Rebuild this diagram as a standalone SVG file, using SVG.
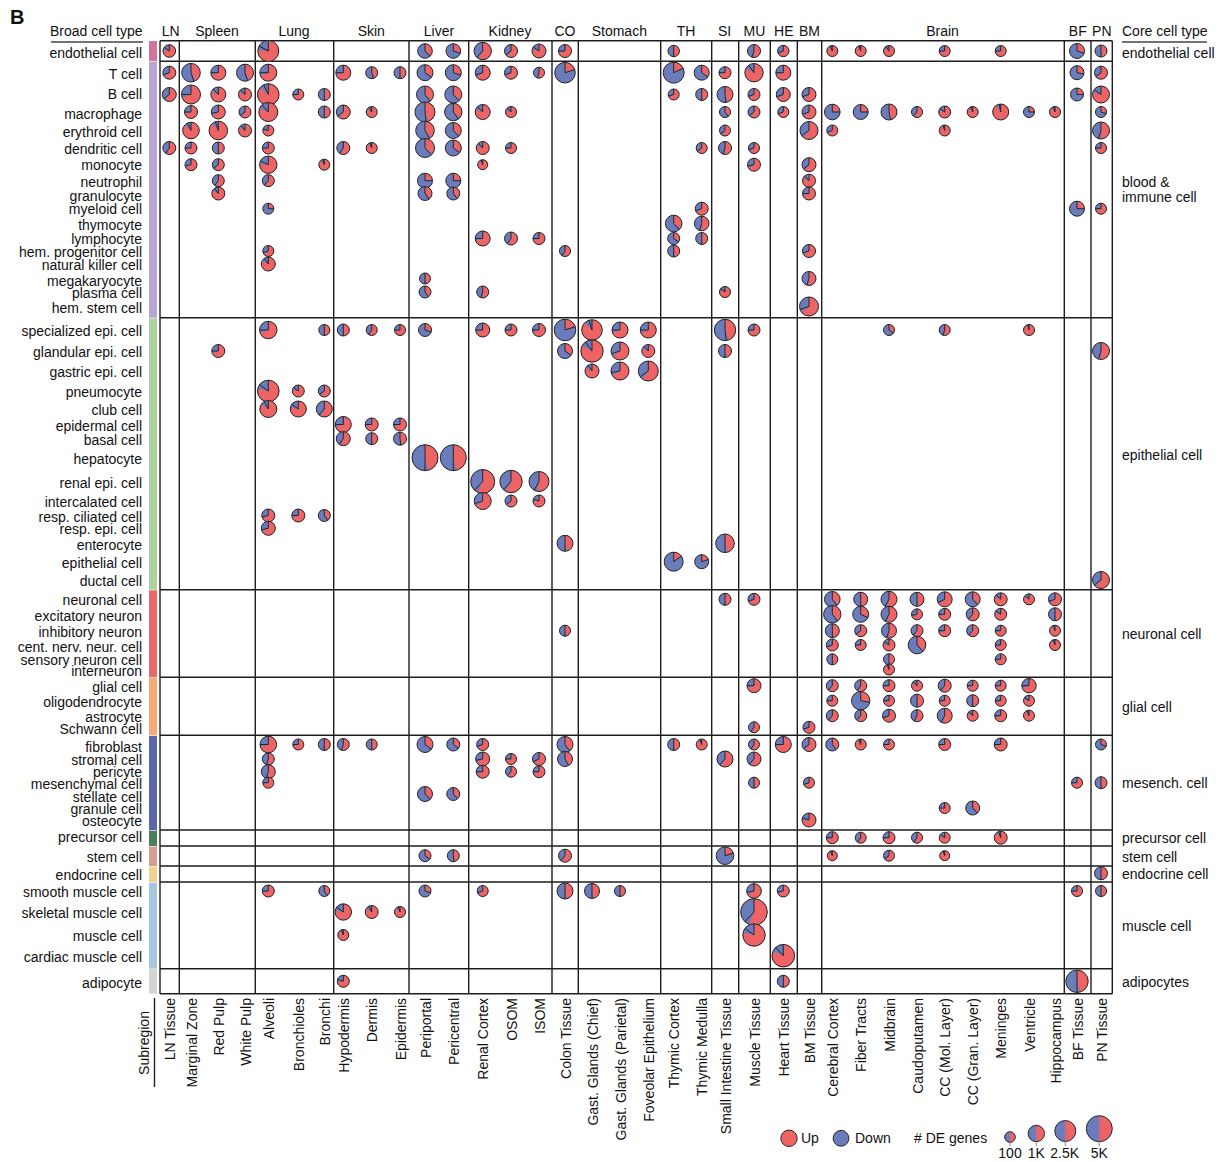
<svg xmlns="http://www.w3.org/2000/svg" xmlns:xlink="http://www.w3.org/1999/xlink" width="1223" height="1162" viewBox="0 0 1223 1162">
<style>
text{font-family:"Liberation Sans",Arial,Helvetica,sans-serif;font-size:14px;fill:#111}
.e{text-anchor:end}
.m{text-anchor:middle}
.g{stroke:#1e1e1e;stroke-width:1.4;fill:none}
.o{fill:none;stroke:#262626;stroke-width:1;vector-effect:non-scaling-stroke;stroke-dasharray:none}
.ul{stroke:#444;stroke-width:1.6}
</style>
<defs>
<g id="p"><circle r="1" fill="#6b7cbd"/><circle r=".5" fill="none" stroke="#ee6464" stroke-width="1" pathLength="100" transform="rotate(-90)"/><circle r="1" class="o"/><path d="M0 0V-1" class="o"/></g>
<path id="l" d="M0 0V-1" class="o"/>
<linearGradient id="hg"><stop offset=".42" stop-color="#6b7cbd"/><stop offset=".58" stop-color="#ee6464"/></linearGradient>
</defs>
<rect width="1223" height="1162" fill="#fff"/>
<text x="10" y="24" style="font-size:20px;font-weight:bold">B</text>
<g id="headers">
<text class="e" x="142.5" y="36">Broad cell type</text>
<line class="ul" x1="51" y1="42" x2="143" y2="42"/>
<text x="1122" y="36">Core cell type</text>
<line class="ul" x1="1122" y1="42" x2="1207" y2="42"/>
<text class="m" x="170.7" y="36">LN</text>
<text class="m" x="217" y="36">Spleen</text>
<text class="m" x="294" y="36">Lung</text>
<text class="m" x="371.3" y="36">Skin</text>
<text class="m" x="439" y="36">Liver</text>
<text class="m" x="510" y="36">Kidney</text>
<text class="m" x="565" y="36">CO</text>
<text class="m" x="619.3" y="36">Stomach</text>
<text class="m" x="686" y="36">TH</text>
<text class="m" x="724.5" y="36">SI</text>
<text class="m" x="754.5" y="36">MU</text>
<text class="m" x="783.8" y="36">HE</text>
<text class="m" x="809.5" y="36">BM</text>
<text class="m" x="942.5" y="36">Brain</text>
<text class="m" x="1077.8" y="36">BF</text>
<text class="m" x="1101.8" y="36">PN</text>
</g>
<g id="row-labels" class="e">
<text class="e" x="142" y="57.5">endothelial cell</text>
<text class="e" x="142" y="78.7">T cell</text>
<text class="e" x="142" y="99.3">B cell</text>
<text class="e" x="142" y="119">macrophage</text>
<text class="e" x="142" y="137">erythroid cell</text>
<text class="e" x="142" y="154">dendritic cell</text>
<text class="e" x="142" y="170">monocyte</text>
<text class="e" x="142" y="186.7">neutrophil</text>
<text class="e" x="142" y="200.7">granulocyte</text>
<text class="e" x="142" y="214.3">myeloid cell</text>
<text class="e" x="142" y="229.7">thymocyte</text>
<text class="e" x="142" y="243.7">lymphocyte</text>
<text class="e" x="142" y="257.3">hem. progenitor cell</text>
<text class="e" x="142" y="270">natural killer cell</text>
<text class="e" x="142" y="285.7">megakaryocyte</text>
<text class="e" x="142" y="297.7">plasma cell</text>
<text class="e" x="142" y="313">hem. stem cell</text>
<text class="e" x="142" y="335.7">specialized epi. cell</text>
<text class="e" x="142" y="357">glandular epi. cell</text>
<text class="e" x="142" y="377.3">gastric epi. cell</text>
<text class="e" x="142" y="396.7">pneumocyte</text>
<text class="e" x="142" y="415">club cell</text>
<text class="e" x="142" y="430.7">epidermal cell</text>
<text class="e" x="142" y="444.7">basal cell</text>
<text class="e" x="142" y="464">hepatocyte</text>
<text class="e" x="142" y="488">renal epi. cell</text>
<text class="e" x="142" y="507.3">intercalated cell</text>
<text class="e" x="142" y="521.7">resp. ciliated cell</text>
<text class="e" x="142" y="534">resp. epi. cell</text>
<text class="e" x="142" y="549.7">enterocyte</text>
<text class="e" x="142" y="568.3">epithelial cell</text>
<text class="e" x="142" y="585.7">ductal cell</text>
<text class="e" x="142" y="605.3">neuronal cell</text>
<text class="e" x="142" y="621">excitatory neuron</text>
<text class="e" x="142" y="636.7">inhibitory neuron</text>
<text class="e" x="142" y="651.7">cent. nerv. neur. cell</text>
<text class="e" x="142" y="665.3">sensory neuron cell</text>
<text class="e" x="142" y="676">interneuron</text>
<text class="e" x="142" y="692">glial cell</text>
<text class="e" x="142" y="706.7">oligodendrocyte</text>
<text class="e" x="142" y="721.7">astrocyte</text>
<text class="e" x="142" y="734">Schwann cell</text>
<text class="e" x="142" y="751.7">fibroblast</text>
<text class="e" x="142" y="764.7">stromal cell</text>
<text class="e" x="142" y="776.7">pericyte</text>
<text class="e" x="142" y="789">mesenchymal cell</text>
<text class="e" x="142" y="801.7">stellate cell</text>
<text class="e" x="142" y="814">granule cell</text>
<text class="e" x="142" y="826">osteocyte</text>
<text class="e" x="142" y="842">precursor cell</text>
<text class="e" x="142" y="862">stem cell</text>
<text class="e" x="142" y="879.7">endocrine cell</text>
<text class="e" x="142" y="897.3">smooth muscle cell</text>
<text class="e" x="142" y="918">skeletal muscle cell</text>
<text class="e" x="142" y="941.3">muscle cell</text>
<text class="e" x="142" y="962.3">cardiac muscle cell</text>
<text class="e" x="142" y="987.7">adipocyte</text>
</g>
<g id="core-labels">
<text x="1122" y="57.5">endothelial cell</text>
<text x="1122" y="187.3">blood &amp;</text>
<text x="1122" y="202.3">immune cell</text>
<text x="1122" y="460">epithelial cell</text>
<text x="1122" y="639.3">neuronal cell</text>
<text x="1122" y="712">glial cell</text>
<text x="1122" y="788.3">mesench. cell</text>
<text x="1122" y="843.3">precursor cell</text>
<text x="1122" y="861.7">stem cell</text>
<text x="1122" y="879.3">endocrine cell</text>
<text x="1122" y="930.7">muscle cell</text>
<text x="1122" y="986.7">adipocytes</text>
</g>
<g id="color-bar">
<rect x="149" y="41" width="8" height="20.3" fill="#d3739f"/>
<rect x="149" y="62" width="8" height="255.7" fill="#b8a6d4"/>
<rect x="149" y="318.3" width="8" height="271.4" fill="#acd39e"/>
<rect x="149" y="590.3" width="8" height="87" fill="#e8696b"/>
<rect x="149" y="678" width="8" height="57.3" fill="#f7aa74"/>
<rect x="149" y="736" width="8" height="94" fill="#5a67ad"/>
<rect x="149" y="830.6" width="8" height="15.4" fill="#4a7f5c"/>
<rect x="149" y="846.6" width="8" height="19.4" fill="#d89b90"/>
<rect x="149" y="866.6" width="8" height="15.4" fill="#f2d38e"/>
<rect x="149" y="882.6" width="8" height="86.1" fill="#a8c6e0"/>
<rect x="149" y="969.3" width="8" height="24.4" fill="#d4d4d4"/>
</g>
<g id="grid" class="g">
<path d="M160 40.7H1112.3M160 61.3H1112.3M160 317.7H1112.3M160 589.7H1112.3M160 677.3H1112.3M160 735.3H1112.3M160 830H1112.3M160 846H1112.3M160 866H1112.3M160 882H1112.3M160 968.7H1112.3M160 993.7H1112.3"/>
<path d="M160 40.7V993.7M179.3 40.7V993.7M255.3 40.7V993.7M333.7 40.7V993.7M409 40.7V993.7M468.7 40.7V993.7M552 40.7V993.7M578.3 40.7V993.7M660.7 40.7V993.7M711.7 40.7V993.7M738.7 40.7V993.7M770.3 40.7V993.7M797.3 40.7V993.7M821.7 40.7V993.7M1064.3 40.7V993.7M1091 40.7V993.7M1112.3 40.7V993.7"/>
</g>
<g id="pies">
<g id="r-endothelial" transform="translate(0 51)">
<g transform="translate(169.3 0)scale(6.3)"><use href="#p" stroke-dasharray="85 100"/><use href="#l" transform="rotate(306)"/></g>
<g transform="translate(268.3 0)scale(10.5)"><use href="#p" stroke-dasharray="83 100"/><use href="#l" transform="rotate(298.8)"/></g>
<g transform="translate(425 0)scale(7.3)"><use href="#p" stroke-dasharray="38 100"/><use href="#l" transform="rotate(136.8)"/></g>
<g transform="translate(453.3 0)scale(7.3)"><use href="#p" stroke-dasharray="30 100"/><use href="#l" transform="rotate(108)"/></g>
<g transform="translate(482.7 0)scale(8.7)"><use href="#p" stroke-dasharray="62 100"/><use href="#l" transform="rotate(223.2)"/></g>
<g transform="translate(511 0)scale(6.5)"><use href="#p" stroke-dasharray="65 100"/><use href="#l" transform="rotate(234)"/></g>
<g transform="translate(539 0)scale(7)"><use href="#p" stroke-dasharray="85 100"/><use href="#l" transform="rotate(306)"/></g>
<g transform="translate(565 0)scale(6.5)"><use href="#p" stroke-dasharray="75 100"/><use href="#l" transform="rotate(270)"/></g>
<g transform="translate(673.7 0)scale(5.7)"><use href="#p" stroke-dasharray="50 100"/><use href="#l" transform="rotate(180)"/></g>
<g transform="translate(754 0)scale(6.5)"><use href="#p" stroke-dasharray="55 100"/><use href="#l" transform="rotate(198)"/></g>
<g transform="translate(783.3 0)scale(5.7)"><use href="#p" stroke-dasharray="70 100"/><use href="#l" transform="rotate(252)"/></g>
<g transform="translate(832.3 0)scale(5.5)"><use href="#p" stroke-dasharray="95 100"/><use href="#l" transform="rotate(342)"/></g>
<g transform="translate(860.7 0)scale(5.5)"><use href="#p" stroke-dasharray="95 100"/><use href="#l" transform="rotate(342)"/></g>
<g transform="translate(889 0)scale(5.5)"><use href="#p" stroke-dasharray="90 100"/><use href="#l" transform="rotate(324)"/></g>
<g transform="translate(944.7 0)scale(5.5)"><use href="#p" stroke-dasharray="75 100"/><use href="#l" transform="rotate(270)"/></g>
<g transform="translate(1000.7 0)scale(5.5)"><use href="#p" stroke-dasharray="75 100"/><use href="#l" transform="rotate(270)"/></g>
<g transform="translate(1077 0)scale(7.5)"><use href="#p" stroke-dasharray="30 100"/><use href="#l" transform="rotate(108)"/></g>
<g transform="translate(1101 0)scale(6)"><use href="#p" stroke-dasharray="50 100"/><use href="#l" transform="rotate(180)"/></g>
</g>
<g id="r-tcell" transform="translate(0 72.7)">
<g transform="translate(169.3 0)scale(6.5)"><use href="#p" stroke-dasharray="70 100"/><use href="#l" transform="rotate(252)"/></g>
<g transform="translate(191 0)scale(9.3)"><use href="#p" stroke-dasharray="45 100"/><use href="#l" transform="rotate(162)"/></g>
<g transform="translate(218.3 0)scale(7.5)"><use href="#p" stroke-dasharray="75 100"/><use href="#l" transform="rotate(270)"/></g>
<g transform="translate(245 0)scale(8.5)"><use href="#p" stroke-dasharray="45 100"/><use href="#l" transform="rotate(162)"/></g>
<g transform="translate(268.3 0)scale(8.5)"><use href="#p" stroke-dasharray="75 100"/><use href="#l" transform="rotate(270)"/></g>
<g transform="translate(343.3 0)scale(7.5)"><use href="#p" stroke-dasharray="75 100"/><use href="#l" transform="rotate(270)"/></g>
<g transform="translate(371.7 0)scale(6)"><use href="#p" stroke-dasharray="45 100"/><use href="#l" transform="rotate(162)"/></g>
<g transform="translate(400 0)scale(6)"><use href="#p" stroke-dasharray="50 100"/><use href="#l" transform="rotate(180)"/></g>
<g transform="translate(425 0)scale(8)"><use href="#p" stroke-dasharray="35 100"/><use href="#l" transform="rotate(126)"/></g>
<g transform="translate(453.3 0)scale(8)"><use href="#p" stroke-dasharray="30 100"/><use href="#l" transform="rotate(108)"/></g>
<g transform="translate(482.7 0)scale(7.5)"><use href="#p" stroke-dasharray="70 100"/><use href="#l" transform="rotate(252)"/></g>
<g transform="translate(511 0)scale(6.5)"><use href="#p" stroke-dasharray="70 100"/><use href="#l" transform="rotate(252)"/></g>
<g transform="translate(539 0)scale(5.5)"><use href="#p" stroke-dasharray="55 100"/><use href="#l" transform="rotate(198)"/></g>
<g transform="translate(565 0)scale(10.3)"><use href="#p" stroke-dasharray="20 100"/><use href="#l" transform="rotate(72)"/></g>
<g transform="translate(673.7 0)scale(10.5)"><use href="#p" stroke-dasharray="18 100"/><use href="#l" transform="rotate(64.8)"/></g>
<g transform="translate(701.7 0)scale(7.5)"><use href="#p" stroke-dasharray="35 100"/><use href="#l" transform="rotate(126)"/></g>
<g transform="translate(725 0)scale(6)"><use href="#p" stroke-dasharray="75 100"/><use href="#l" transform="rotate(270)"/></g>
<g transform="translate(754 0)scale(9.2)"><use href="#p" stroke-dasharray="90 100"/><use href="#l" transform="rotate(324)"/></g>
<g transform="translate(783.3 0)scale(7.5)"><use href="#p" stroke-dasharray="75 100"/><use href="#l" transform="rotate(270)"/></g>
<g transform="translate(1077 0)scale(7)"><use href="#p" stroke-dasharray="28 100"/><use href="#l" transform="rotate(100.8)"/></g>
<g transform="translate(1101 0)scale(6.5)"><use href="#p" stroke-dasharray="65 100"/><use href="#l" transform="rotate(234)"/></g>
</g>
<g id="r-bcell" transform="translate(0 94.5)">
<g transform="translate(169.3 0)scale(7)"><use href="#p" stroke-dasharray="65 100"/><use href="#l" transform="rotate(234)"/></g>
<g transform="translate(191 0)scale(9.5)"><use href="#p" stroke-dasharray="75 100"/><use href="#l" transform="rotate(270)"/></g>
<g transform="translate(218.3 0)scale(7.5)"><use href="#p" stroke-dasharray="88 100"/><use href="#l" transform="rotate(316.8)"/></g>
<g transform="translate(245 0)scale(6.5)"><use href="#p" stroke-dasharray="88 100"/><use href="#l" transform="rotate(316.8)"/></g>
<g transform="translate(268.3 0)scale(10.8)"><use href="#p" stroke-dasharray="93 100"/><use href="#l" transform="rotate(334.8)"/></g>
<g transform="translate(298.3 0)scale(5.5)"><use href="#p" stroke-dasharray="75 100"/><use href="#l" transform="rotate(270)"/></g>
<g transform="translate(324.3 0)scale(6)"><use href="#p" stroke-dasharray="50 100"/><use href="#l" transform="rotate(180)"/></g>
<g transform="translate(425 0)scale(8.5)"><use href="#p" stroke-dasharray="40 100"/><use href="#l" transform="rotate(144)"/></g>
<g transform="translate(453.3 0)scale(8.5)"><use href="#p" stroke-dasharray="38 100"/><use href="#l" transform="rotate(136.8)"/></g>
<g transform="translate(673.7 0)scale(5.5)"><use href="#p" stroke-dasharray="70 100"/><use href="#l" transform="rotate(252)"/></g>
<g transform="translate(701.7 0)scale(6)"><use href="#p" stroke-dasharray="50 100"/><use href="#l" transform="rotate(180)"/></g>
<g transform="translate(725 0)scale(8)"><use href="#p" stroke-dasharray="48 100"/><use href="#l" transform="rotate(172.8)"/></g>
<g transform="translate(754 0)scale(6)"><use href="#p" stroke-dasharray="70 100"/><use href="#l" transform="rotate(252)"/></g>
<g transform="translate(783.3 0)scale(7)"><use href="#p" stroke-dasharray="70 100"/><use href="#l" transform="rotate(252)"/></g>
<g transform="translate(809 0)scale(7)"><use href="#p" stroke-dasharray="70 100"/><use href="#l" transform="rotate(252)"/></g>
<g transform="translate(1077 0)scale(6.5)"><use href="#p" stroke-dasharray="25 100"/><use href="#l" transform="rotate(90)"/></g>
<g transform="translate(1101 0)scale(8.5)"><use href="#p" stroke-dasharray="85 100"/><use href="#l" transform="rotate(306)"/></g>
</g>
<g id="r-macrophage" transform="translate(0 112)">
<g transform="translate(191 0)scale(6.5)"><use href="#p" stroke-dasharray="75 100"/><use href="#l" transform="rotate(270)"/></g>
<g transform="translate(218.3 0)scale(7)"><use href="#p" stroke-dasharray="72 100"/><use href="#l" transform="rotate(259.2)"/></g>
<g transform="translate(245 0)scale(6)"><use href="#p" stroke-dasharray="65 100"/><use href="#l" transform="rotate(234)"/></g>
<g transform="translate(268.3 0)scale(9.5)"><use href="#p" stroke-dasharray="88 100"/><use href="#l" transform="rotate(316.8)"/></g>
<g transform="translate(324.3 0)scale(6)"><use href="#p" stroke-dasharray="50 100"/><use href="#l" transform="rotate(180)"/></g>
<g transform="translate(343.3 0)scale(7)"><use href="#p" stroke-dasharray="65 100"/><use href="#l" transform="rotate(234)"/></g>
<g transform="translate(371.7 0)scale(5.5)"><use href="#p" stroke-dasharray="92 100"/><use href="#l" transform="rotate(331.2)"/></g>
<g transform="translate(425 0)scale(10)"><use href="#p" stroke-dasharray="48 100"/><use href="#l" transform="rotate(172.8)"/></g>
<g transform="translate(453.3 0)scale(8.7)"><use href="#p" stroke-dasharray="40 100"/><use href="#l" transform="rotate(144)"/></g>
<g transform="translate(482.7 0)scale(7.5)"><use href="#p" stroke-dasharray="88 100"/><use href="#l" transform="rotate(316.8)"/></g>
<g transform="translate(511 0)scale(5.5)"><use href="#p" stroke-dasharray="88 100"/><use href="#l" transform="rotate(316.8)"/></g>
<g transform="translate(725 0)scale(5.5)"><use href="#p" stroke-dasharray="40 100"/><use href="#l" transform="rotate(144)"/></g>
<g transform="translate(754 0)scale(6)"><use href="#p" stroke-dasharray="65 100"/><use href="#l" transform="rotate(234)"/></g>
<g transform="translate(783.3 0)scale(5.5)"><use href="#p" stroke-dasharray="70 100"/><use href="#l" transform="rotate(252)"/></g>
<g transform="translate(809 0)scale(7)"><use href="#p" stroke-dasharray="70 100"/><use href="#l" transform="rotate(252)"/></g>
<g transform="translate(832.3 0)scale(7.8)"><use href="#p" stroke-dasharray="25 100"/><use href="#l" transform="rotate(90)"/></g>
<g transform="translate(860.7 0)scale(7.5)"><use href="#p" stroke-dasharray="25 100"/><use href="#l" transform="rotate(90)"/></g>
<g transform="translate(889 0)scale(8)"><use href="#p" stroke-dasharray="47 100"/><use href="#l" transform="rotate(169.2)"/></g>
<g transform="translate(917 0)scale(5.5)"><use href="#p" stroke-dasharray="62 100"/><use href="#l" transform="rotate(223.2)"/></g>
<g transform="translate(944.7 0)scale(6)"><use href="#p" stroke-dasharray="85 100"/><use href="#l" transform="rotate(306)"/></g>
<g transform="translate(972.7 0)scale(5.5)"><use href="#p" stroke-dasharray="95 100"/><use href="#l" transform="rotate(342)"/></g>
<g transform="translate(1000.7 0)scale(8)"><use href="#p" stroke-dasharray="97 100"/><use href="#l" transform="rotate(349.2)"/></g>
<g transform="translate(1029 0)scale(5.5)"><use href="#p" stroke-dasharray="25 100"/><use href="#l" transform="rotate(90)"/></g>
<g transform="translate(1055 0)scale(5.5)"><use href="#p" stroke-dasharray="95 100"/><use href="#l" transform="rotate(342)"/></g>
<g transform="translate(1101 0)scale(5.5)"><use href="#p" stroke-dasharray="30 100"/><use href="#l" transform="rotate(108)"/></g>
</g>
<g id="r-erythroid" transform="translate(0 130.5)">
<g transform="translate(191 0)scale(8.3)"><use href="#p" stroke-dasharray="93 100"/><use href="#l" transform="rotate(334.8)"/></g>
<g transform="translate(218.3 0)scale(9.3)"><use href="#p" stroke-dasharray="95 100"/><use href="#l" transform="rotate(342)"/></g>
<g transform="translate(245 0)scale(6.5)"><use href="#p" stroke-dasharray="90 100"/><use href="#l" transform="rotate(324)"/></g>
<g transform="translate(268.3 0)scale(5.5)"><use href="#p" stroke-dasharray="80 100"/><use href="#l" transform="rotate(288)"/></g>
<g transform="translate(425 0)scale(9.3)"><use href="#p" stroke-dasharray="42 100"/><use href="#l" transform="rotate(151.2)"/></g>
<g transform="translate(453.3 0)scale(8)"><use href="#p" stroke-dasharray="38 100"/><use href="#l" transform="rotate(136.8)"/></g>
<g transform="translate(725 0)scale(5.5)"><use href="#p" stroke-dasharray="65 100"/><use href="#l" transform="rotate(234)"/></g>
<g transform="translate(809 0)scale(9)"><use href="#p" stroke-dasharray="65 100"/><use href="#l" transform="rotate(234)"/></g>
<g transform="translate(832.3 0)scale(5.5)"><use href="#p" stroke-dasharray="70 100"/><use href="#l" transform="rotate(252)"/></g>
<g transform="translate(944.7 0)scale(5.5)"><use href="#p" stroke-dasharray="95 100"/><use href="#l" transform="rotate(342)"/></g>
<g transform="translate(1101 0)scale(8.5)"><use href="#p" stroke-dasharray="55 100"/><use href="#l" transform="rotate(198)"/></g>
</g>
<g id="r-dendritic" transform="translate(0 148)">
<g transform="translate(169.3 0)scale(6.5)"><use href="#p" stroke-dasharray="60 100"/><use href="#l" transform="rotate(216)"/></g>
<g transform="translate(191 0)scale(6)"><use href="#p" stroke-dasharray="75 100"/><use href="#l" transform="rotate(270)"/></g>
<g transform="translate(218.3 0)scale(6)"><use href="#p" stroke-dasharray="50 100"/><use href="#l" transform="rotate(180)"/></g>
<g transform="translate(268.3 0)scale(6)"><use href="#p" stroke-dasharray="75 100"/><use href="#l" transform="rotate(270)"/></g>
<g transform="translate(343.3 0)scale(6.5)"><use href="#p" stroke-dasharray="60 100"/><use href="#l" transform="rotate(216)"/></g>
<g transform="translate(371.7 0)scale(5.5)"><use href="#p" stroke-dasharray="95 100"/><use href="#l" transform="rotate(342)"/></g>
<g transform="translate(425 0)scale(9.5)"><use href="#p" stroke-dasharray="38 100"/><use href="#l" transform="rotate(136.8)"/></g>
<g transform="translate(453.3 0)scale(8)"><use href="#p" stroke-dasharray="35 100"/><use href="#l" transform="rotate(126)"/></g>
<g transform="translate(482.7 0)scale(6.5)"><use href="#p" stroke-dasharray="88 100"/><use href="#l" transform="rotate(316.8)"/></g>
<g transform="translate(511 0)scale(5.5)"><use href="#p" stroke-dasharray="75 100"/><use href="#l" transform="rotate(270)"/></g>
<g transform="translate(701.7 0)scale(5.5)"><use href="#p" stroke-dasharray="65 100"/><use href="#l" transform="rotate(234)"/></g>
<g transform="translate(725 0)scale(6.5)"><use href="#p" stroke-dasharray="55 100"/><use href="#l" transform="rotate(198)"/></g>
<g transform="translate(754 0)scale(5.5)"><use href="#p" stroke-dasharray="70 100"/><use href="#l" transform="rotate(252)"/></g>
<g transform="translate(1101 0)scale(5.5)"><use href="#p" stroke-dasharray="75 100"/><use href="#l" transform="rotate(270)"/></g>
</g>
<g id="r-monocyte" transform="translate(0 164.7)">
<g transform="translate(191 0)scale(6)"><use href="#p" stroke-dasharray="72 100"/><use href="#l" transform="rotate(259.2)"/></g>
<g transform="translate(218.3 0)scale(6)"><use href="#p" stroke-dasharray="65 100"/><use href="#l" transform="rotate(234)"/></g>
<g transform="translate(268.3 0)scale(8.7)"><use href="#p" stroke-dasharray="82 100"/><use href="#l" transform="rotate(295.2)"/></g>
<g transform="translate(324.3 0)scale(5.5)"><use href="#p" stroke-dasharray="95 100"/><use href="#l" transform="rotate(342)"/></g>
<g transform="translate(482.7 0)scale(5)"><use href="#p" stroke-dasharray="95 100"/><use href="#l" transform="rotate(342)"/></g>
<g transform="translate(754 0)scale(6.5)"><use href="#p" stroke-dasharray="72 100"/><use href="#l" transform="rotate(259.2)"/></g>
<g transform="translate(809 0)scale(7)"><use href="#p" stroke-dasharray="65 100"/><use href="#l" transform="rotate(234)"/></g>
</g>
<g id="r-neutrophil" transform="translate(0 180.7)">
<g transform="translate(218.3 0)scale(6)"><use href="#p" stroke-dasharray="60 100"/><use href="#l" transform="rotate(216)"/></g>
<g transform="translate(268.3 0)scale(6)"><use href="#p" stroke-dasharray="62 100"/><use href="#l" transform="rotate(223.2)"/></g>
<g transform="translate(425 0)scale(7.5)"><use href="#p" stroke-dasharray="25 100"/><use href="#l" transform="rotate(90)"/></g>
<g transform="translate(453.3 0)scale(7.5)"><use href="#p" stroke-dasharray="25 100"/><use href="#l" transform="rotate(90)"/></g>
<g transform="translate(809 0)scale(6.5)"><use href="#p" stroke-dasharray="88 100"/><use href="#l" transform="rotate(316.8)"/></g>
</g>
<g id="r-granulocyte" transform="translate(0 193.5)">
<g transform="translate(218.3 0)scale(6.5)"><use href="#p" stroke-dasharray="90 100"/><use href="#l" transform="rotate(324)"/></g>
<g transform="translate(425 0)scale(7)"><use href="#p" stroke-dasharray="40 100"/><use href="#l" transform="rotate(144)"/></g>
<g transform="translate(453.3 0)scale(6.5)"><use href="#p" stroke-dasharray="40 100"/><use href="#l" transform="rotate(144)"/></g>
<g transform="translate(809 0)scale(6.5)"><use href="#p" stroke-dasharray="75 100"/><use href="#l" transform="rotate(270)"/></g>
</g>
<g id="r-myeloid" transform="translate(0 208.7)">
<g transform="translate(268.3 0)scale(5.5)"><use href="#p" stroke-dasharray="25 100"/><use href="#l" transform="rotate(90)"/></g>
<g transform="translate(701.7 0)scale(6.5)"><use href="#p" stroke-dasharray="70 100"/><use href="#l" transform="rotate(252)"/></g>
<g transform="translate(1077 0)scale(7.5)"><use href="#p" stroke-dasharray="25 100"/><use href="#l" transform="rotate(90)"/></g>
<g transform="translate(1101 0)scale(5.5)"><use href="#p" stroke-dasharray="75 100"/><use href="#l" transform="rotate(270)"/></g>
</g>
<g id="r-thymocyte" transform="translate(0 223.5)">
<g transform="translate(673.7 0)scale(8.3)"><use href="#p" stroke-dasharray="38 100"/><use href="#l" transform="rotate(136.8)"/></g>
<g transform="translate(701.7 0)scale(7.3)"><use href="#p" stroke-dasharray="55 100"/><use href="#l" transform="rotate(198)"/></g>
</g>
<g id="r-lymphocyte" transform="translate(0 238.5)">
<g transform="translate(482.7 0)scale(7.5)"><use href="#p" stroke-dasharray="75 100"/><use href="#l" transform="rotate(270)"/></g>
<g transform="translate(511 0)scale(6.5)"><use href="#p" stroke-dasharray="60 100"/><use href="#l" transform="rotate(216)"/></g>
<g transform="translate(539 0)scale(6)"><use href="#p" stroke-dasharray="75 100"/><use href="#l" transform="rotate(270)"/></g>
<g transform="translate(673.7 0)scale(6)"><use href="#p" stroke-dasharray="35 100"/><use href="#l" transform="rotate(126)"/></g>
<g transform="translate(701.7 0)scale(6)"><use href="#p" stroke-dasharray="50 100"/><use href="#l" transform="rotate(180)"/></g>
</g>
<g id="r-hemprog" transform="translate(0 251)">
<g transform="translate(268.3 0)scale(5.5)"><use href="#p" stroke-dasharray="70 100"/><use href="#l" transform="rotate(252)"/></g>
<g transform="translate(565 0)scale(5.5)"><use href="#p" stroke-dasharray="60 100"/><use href="#l" transform="rotate(216)"/></g>
<g transform="translate(673.7 0)scale(6)"><use href="#p" stroke-dasharray="50 100"/><use href="#l" transform="rotate(180)"/></g>
<g transform="translate(809 0)scale(6.5)"><use href="#p" stroke-dasharray="70 100"/><use href="#l" transform="rotate(252)"/></g>
</g>
<g id="r-nk" transform="translate(0 264)">
<g transform="translate(268.3 0)scale(7)"><use href="#p" stroke-dasharray="90 100"/><use href="#l" transform="rotate(324)"/></g>
</g>
<g id="r-megakaryocyte" transform="translate(0 278.5)">
<g transform="translate(425 0)scale(5.5)"><use href="#p" stroke-dasharray="50 100"/><use href="#l" transform="rotate(180)"/></g>
<g transform="translate(809 0)scale(7)"><use href="#p" stroke-dasharray="55 100"/><use href="#l" transform="rotate(198)"/></g>
</g>
<g id="r-plasma" transform="translate(0 292)">
<g transform="translate(425 0)scale(6)"><use href="#p" stroke-dasharray="40 100"/><use href="#l" transform="rotate(144)"/></g>
<g transform="translate(482.7 0)scale(6)"><use href="#p" stroke-dasharray="55 100"/><use href="#l" transform="rotate(198)"/></g>
<g transform="translate(725 0)scale(5.5)"><use href="#p" stroke-dasharray="85 100"/><use href="#l" transform="rotate(306)"/></g>
</g>
<g id="r-hemstem" transform="translate(0 306.5)">
<g transform="translate(809 0)scale(9.5)"><use href="#p" stroke-dasharray="70 100"/><use href="#l" transform="rotate(252)"/></g>
</g>
<g id="r-specepi" transform="translate(0 330)">
<g transform="translate(268.3 0)scale(8.7)"><use href="#p" stroke-dasharray="75 100"/><use href="#l" transform="rotate(270)"/></g>
<g transform="translate(324.3 0)scale(5.5)"><use href="#p" stroke-dasharray="50 100"/><use href="#l" transform="rotate(180)"/></g>
<g transform="translate(343.3 0)scale(6)"><use href="#p" stroke-dasharray="50 100"/><use href="#l" transform="rotate(180)"/></g>
<g transform="translate(371.7 0)scale(5.5)"><use href="#p" stroke-dasharray="60 100"/><use href="#l" transform="rotate(216)"/></g>
<g transform="translate(400 0)scale(5.5)"><use href="#p" stroke-dasharray="75 100"/><use href="#l" transform="rotate(270)"/></g>
<g transform="translate(425 0)scale(6.5)"><use href="#p" stroke-dasharray="30 100"/><use href="#l" transform="rotate(108)"/></g>
<g transform="translate(482.7 0)scale(7)"><use href="#p" stroke-dasharray="75 100"/><use href="#l" transform="rotate(270)"/></g>
<g transform="translate(511 0)scale(6)"><use href="#p" stroke-dasharray="75 100"/><use href="#l" transform="rotate(270)"/></g>
<g transform="translate(539 0)scale(6.5)"><use href="#p" stroke-dasharray="75 100"/><use href="#l" transform="rotate(270)"/></g>
<g transform="translate(565 0)scale(10.8)"><use href="#p" stroke-dasharray="20 100"/><use href="#l" transform="rotate(72)"/></g>
<g transform="translate(592 0)scale(10.3)"><use href="#p" stroke-dasharray="95 100"/><use href="#l" transform="rotate(342)"/></g>
<g transform="translate(620 0)scale(8)"><use href="#p" stroke-dasharray="75 100"/><use href="#l" transform="rotate(270)"/></g>
<g transform="translate(648.3 0)scale(8)"><use href="#p" stroke-dasharray="75 100"/><use href="#l" transform="rotate(270)"/></g>
<g transform="translate(725 0)scale(10.7)"><use href="#p" stroke-dasharray="48 100"/><use href="#l" transform="rotate(172.8)"/></g>
<g transform="translate(754 0)scale(6)"><use href="#p" stroke-dasharray="75 100"/><use href="#l" transform="rotate(270)"/></g>
<g transform="translate(889 0)scale(5.5)"><use href="#p" stroke-dasharray="35 100"/><use href="#l" transform="rotate(126)"/></g>
<g transform="translate(944.7 0)scale(5.5)"><use href="#p" stroke-dasharray="55 100"/><use href="#l" transform="rotate(198)"/></g>
<g transform="translate(1029 0)scale(5.5)"><use href="#p" stroke-dasharray="97 100"/><use href="#l" transform="rotate(349.2)"/></g>
</g>
<g id="r-glandepi" transform="translate(0 351)">
<g transform="translate(218.3 0)scale(6.5)"><use href="#p" stroke-dasharray="75 100"/><use href="#l" transform="rotate(270)"/></g>
<g transform="translate(565 0)scale(7.5)"><use href="#p" stroke-dasharray="35 100"/><use href="#l" transform="rotate(126)"/></g>
<g transform="translate(592 0)scale(11.2)"><use href="#p" stroke-dasharray="90 100"/><use href="#l" transform="rotate(324)"/></g>
<g transform="translate(620 0)scale(9)"><use href="#p" stroke-dasharray="70 100"/><use href="#l" transform="rotate(252)"/></g>
<g transform="translate(648.3 0)scale(6.5)"><use href="#p" stroke-dasharray="88 100"/><use href="#l" transform="rotate(316.8)"/></g>
<g transform="translate(725 0)scale(6.5)"><use href="#p" stroke-dasharray="50 100"/><use href="#l" transform="rotate(180)"/></g>
<g transform="translate(1101 0)scale(8.5)"><use href="#p" stroke-dasharray="55 100"/><use href="#l" transform="rotate(198)"/></g>
</g>
<g id="r-gastric" transform="translate(0 371)">
<g transform="translate(592 0)scale(7)"><use href="#p" stroke-dasharray="90 100"/><use href="#l" transform="rotate(324)"/></g>
<g transform="translate(620 0)scale(9)"><use href="#p" stroke-dasharray="72 100"/><use href="#l" transform="rotate(259.2)"/></g>
<g transform="translate(648.3 0)scale(10)"><use href="#p" stroke-dasharray="65 100"/><use href="#l" transform="rotate(234)"/></g>
</g>
<g id="r-pneumocyte" transform="translate(0 391)">
<g transform="translate(268.3 0)scale(10.8)"><use href="#p" stroke-dasharray="85 100"/><use href="#l" transform="rotate(306)"/></g>
<g transform="translate(298.3 0)scale(6)"><use href="#p" stroke-dasharray="85 100"/><use href="#l" transform="rotate(306)"/></g>
<g transform="translate(324.3 0)scale(6)"><use href="#p" stroke-dasharray="65 100"/><use href="#l" transform="rotate(234)"/></g>
</g>
<g id="r-club" transform="translate(0 409)">
<g transform="translate(268.3 0)scale(8.5)"><use href="#p" stroke-dasharray="92 100"/><use href="#l" transform="rotate(331.2)"/></g>
<g transform="translate(298.3 0)scale(8)"><use href="#p" stroke-dasharray="85 100"/><use href="#l" transform="rotate(306)"/></g>
<g transform="translate(324.3 0)scale(8)"><use href="#p" stroke-dasharray="62 100"/><use href="#l" transform="rotate(223.2)"/></g>
</g>
<g id="r-epidermal" transform="translate(0 424.5)">
<g transform="translate(343.3 0)scale(8)"><use href="#p" stroke-dasharray="75 100"/><use href="#l" transform="rotate(270)"/></g>
<g transform="translate(371.7 0)scale(6.5)"><use href="#p" stroke-dasharray="75 100"/><use href="#l" transform="rotate(270)"/></g>
<g transform="translate(400 0)scale(6.5)"><use href="#p" stroke-dasharray="75 100"/><use href="#l" transform="rotate(270)"/></g>
</g>
<g id="r-basal" transform="translate(0 438.7)">
<g transform="translate(343.3 0)scale(7)"><use href="#p" stroke-dasharray="60 100"/><use href="#l" transform="rotate(216)"/></g>
<g transform="translate(371.7 0)scale(6)"><use href="#p" stroke-dasharray="50 100"/><use href="#l" transform="rotate(180)"/></g>
<g transform="translate(400 0)scale(6.5)"><use href="#p" stroke-dasharray="48 100"/><use href="#l" transform="rotate(172.8)"/></g>
</g>
<g id="r-hepatocyte" transform="translate(0 457.7)">
<g transform="translate(425 0)scale(13)"><use href="#p" stroke-dasharray="50 100"/><use href="#l" transform="rotate(180)"/></g>
<g transform="translate(453.3 0)scale(13)"><use href="#p" stroke-dasharray="50 100"/><use href="#l" transform="rotate(180)"/></g>
</g>
<g id="r-renalepi" transform="translate(0 481.5)">
<g transform="translate(482.7 0)scale(12)"><use href="#p" stroke-dasharray="62 100"/><use href="#l" transform="rotate(223.2)"/></g>
<g transform="translate(511 0)scale(11.2)"><use href="#p" stroke-dasharray="62 100"/><use href="#l" transform="rotate(223.2)"/></g>
<g transform="translate(539 0)scale(10)"><use href="#p" stroke-dasharray="58 100"/><use href="#l" transform="rotate(208.8)"/></g>
</g>
<g id="r-intercalated" transform="translate(0 501)">
<g transform="translate(482.7 0)scale(8.5)"><use href="#p" stroke-dasharray="70 100"/><use href="#l" transform="rotate(252)"/></g>
<g transform="translate(511 0)scale(6)"><use href="#p" stroke-dasharray="65 100"/><use href="#l" transform="rotate(234)"/></g>
<g transform="translate(539 0)scale(6)"><use href="#p" stroke-dasharray="80 100"/><use href="#l" transform="rotate(288)"/></g>
</g>
<g id="r-respcil" transform="translate(0 515.5)">
<g transform="translate(268.3 0)scale(6.5)"><use href="#p" stroke-dasharray="72 100"/><use href="#l" transform="rotate(259.2)"/></g>
<g transform="translate(298.3 0)scale(6.5)"><use href="#p" stroke-dasharray="75 100"/><use href="#l" transform="rotate(270)"/></g>
<g transform="translate(324.3 0)scale(6)"><use href="#p" stroke-dasharray="40 100"/><use href="#l" transform="rotate(144)"/></g>
</g>
<g id="r-respepi" transform="translate(0 528.3)">
<g transform="translate(268.3 0)scale(7)"><use href="#p" stroke-dasharray="72 100"/><use href="#l" transform="rotate(259.2)"/></g>
</g>
<g id="r-enterocyte" transform="translate(0 543.3)">
<g transform="translate(565 0)scale(8)"><use href="#p" stroke-dasharray="50 100"/><use href="#l" transform="rotate(180)"/></g>
<g transform="translate(725 0)scale(9.3)"><use href="#p" stroke-dasharray="50 100"/><use href="#l" transform="rotate(180)"/></g>
</g>
<g id="r-epithelial" transform="translate(0 561.7)">
<g transform="translate(673.7 0)scale(9.5)"><use href="#p" stroke-dasharray="15 100"/><use href="#l" transform="rotate(54)"/></g>
<g transform="translate(701.7 0)scale(7)"><use href="#p" stroke-dasharray="20 100"/><use href="#l" transform="rotate(72)"/></g>
</g>
<g id="r-ductal" transform="translate(0 580)">
<g transform="translate(1101 0)scale(8.5)"><use href="#p" stroke-dasharray="65 100"/><use href="#l" transform="rotate(234)"/></g>
</g>
<g id="r-neuronal" transform="translate(0 599.3)">
<g transform="translate(725 0)scale(6)"><use href="#p" stroke-dasharray="50 100"/><use href="#l" transform="rotate(180)"/></g>
<g transform="translate(754 0)scale(6)"><use href="#p" stroke-dasharray="70 100"/><use href="#l" transform="rotate(252)"/></g>
<g transform="translate(832.3 0)scale(7.8)"><use href="#p" stroke-dasharray="40 100"/><use href="#l" transform="rotate(144)"/></g>
<g transform="translate(860.7 0)scale(7)"><use href="#p" stroke-dasharray="50 100"/><use href="#l" transform="rotate(180)"/></g>
<g transform="translate(889 0)scale(8)"><use href="#p" stroke-dasharray="58 100"/><use href="#l" transform="rotate(208.8)"/></g>
<g transform="translate(917 0)scale(7)"><use href="#p" stroke-dasharray="50 100"/><use href="#l" transform="rotate(180)"/></g>
<g transform="translate(944.7 0)scale(7.5)"><use href="#p" stroke-dasharray="68 100"/><use href="#l" transform="rotate(244.8)"/></g>
<g transform="translate(972.7 0)scale(7.5)"><use href="#p" stroke-dasharray="38 100"/><use href="#l" transform="rotate(136.8)"/></g>
<g transform="translate(1000.7 0)scale(6.5)"><use href="#p" stroke-dasharray="88 100"/><use href="#l" transform="rotate(316.8)"/></g>
<g transform="translate(1029 0)scale(5.5)"><use href="#p" stroke-dasharray="88 100"/><use href="#l" transform="rotate(316.8)"/></g>
<g transform="translate(1055 0)scale(6.5)"><use href="#p" stroke-dasharray="70 100"/><use href="#l" transform="rotate(252)"/></g>
</g>
<g id="r-excitatory" transform="translate(0 614.3)">
<g transform="translate(832.3 0)scale(8.7)"><use href="#p" stroke-dasharray="40 100"/><use href="#l" transform="rotate(144)"/></g>
<g transform="translate(860.7 0)scale(8)"><use href="#p" stroke-dasharray="32 100"/><use href="#l" transform="rotate(115.2)"/></g>
<g transform="translate(889 0)scale(8)"><use href="#p" stroke-dasharray="58 100"/><use href="#l" transform="rotate(208.8)"/></g>
<g transform="translate(917 0)scale(5.5)"><use href="#p" stroke-dasharray="72 100"/><use href="#l" transform="rotate(259.2)"/></g>
<g transform="translate(944.7 0)scale(6)"><use href="#p" stroke-dasharray="75 100"/><use href="#l" transform="rotate(270)"/></g>
<g transform="translate(972.7 0)scale(6.5)"><use href="#p" stroke-dasharray="62 100"/><use href="#l" transform="rotate(223.2)"/></g>
<g transform="translate(1000.7 0)scale(6)"><use href="#p" stroke-dasharray="85 100"/><use href="#l" transform="rotate(306)"/></g>
<g transform="translate(1055 0)scale(6.5)"><use href="#p" stroke-dasharray="50 100"/><use href="#l" transform="rotate(180)"/></g>
</g>
<g id="r-inhibitory" transform="translate(0 630.7)">
<g transform="translate(565 0)scale(5.5)"><use href="#p" stroke-dasharray="50 100"/><use href="#l" transform="rotate(180)"/></g>
<g transform="translate(832.3 0)scale(7)"><use href="#p" stroke-dasharray="50 100"/><use href="#l" transform="rotate(180)"/></g>
<g transform="translate(860.7 0)scale(6)"><use href="#p" stroke-dasharray="65 100"/><use href="#l" transform="rotate(234)"/></g>
<g transform="translate(889 0)scale(7.5)"><use href="#p" stroke-dasharray="55 100"/><use href="#l" transform="rotate(198)"/></g>
<g transform="translate(917 0)scale(6)"><use href="#p" stroke-dasharray="62 100"/><use href="#l" transform="rotate(223.2)"/></g>
<g transform="translate(944.7 0)scale(6)"><use href="#p" stroke-dasharray="75 100"/><use href="#l" transform="rotate(270)"/></g>
<g transform="translate(972.7 0)scale(6)"><use href="#p" stroke-dasharray="62 100"/><use href="#l" transform="rotate(223.2)"/></g>
<g transform="translate(1000.7 0)scale(5.5)"><use href="#p" stroke-dasharray="75 100"/><use href="#l" transform="rotate(270)"/></g>
<g transform="translate(1055 0)scale(5.5)"><use href="#p" stroke-dasharray="95 100"/><use href="#l" transform="rotate(342)"/></g>
</g>
<g id="r-centnerv" transform="translate(0 645)">
<g transform="translate(832.3 0)scale(6)"><use href="#p" stroke-dasharray="70 100"/><use href="#l" transform="rotate(252)"/></g>
<g transform="translate(860.7 0)scale(5.5)"><use href="#p" stroke-dasharray="75 100"/><use href="#l" transform="rotate(270)"/></g>
<g transform="translate(889 0)scale(6)"><use href="#p" stroke-dasharray="85 100"/><use href="#l" transform="rotate(306)"/></g>
<g transform="translate(917 0)scale(8.8)"><use href="#p" stroke-dasharray="38 100"/><use href="#l" transform="rotate(136.8)"/></g>
<g transform="translate(1000.7 0)scale(5.5)"><use href="#p" stroke-dasharray="75 100"/><use href="#l" transform="rotate(270)"/></g>
<g transform="translate(1055 0)scale(5.5)"><use href="#p" stroke-dasharray="95 100"/><use href="#l" transform="rotate(342)"/></g>
</g>
<g id="r-sensory" transform="translate(0 659.3)">
<g transform="translate(832.3 0)scale(5.5)"><use href="#p" stroke-dasharray="50 100"/><use href="#l" transform="rotate(180)"/></g>
<g transform="translate(889 0)scale(5.5)"><use href="#p" stroke-dasharray="50 100"/><use href="#l" transform="rotate(180)"/></g>
<g transform="translate(1000.7 0)scale(5.5)"><use href="#p" stroke-dasharray="75 100"/><use href="#l" transform="rotate(270)"/></g>
</g>
<g id="r-interneuron" transform="translate(0 669.5)">
<g transform="translate(889 0)scale(5.5)"><use href="#p" stroke-dasharray="95 100"/><use href="#l" transform="rotate(342)"/></g>
</g>
<g id="r-glial" transform="translate(0 685.7)">
<g transform="translate(754 0)scale(7)"><use href="#p" stroke-dasharray="75 100"/><use href="#l" transform="rotate(270)"/></g>
<g transform="translate(832.3 0)scale(6)"><use href="#p" stroke-dasharray="62 100"/><use href="#l" transform="rotate(223.2)"/></g>
<g transform="translate(860.7 0)scale(6)"><use href="#p" stroke-dasharray="60 100"/><use href="#l" transform="rotate(216)"/></g>
<g transform="translate(889 0)scale(6)"><use href="#p" stroke-dasharray="75 100"/><use href="#l" transform="rotate(270)"/></g>
<g transform="translate(917 0)scale(5.5)"><use href="#p" stroke-dasharray="88 100"/><use href="#l" transform="rotate(316.8)"/></g>
<g transform="translate(944.7 0)scale(6.5)"><use href="#p" stroke-dasharray="62 100"/><use href="#l" transform="rotate(223.2)"/></g>
<g transform="translate(972.7 0)scale(5.5)"><use href="#p" stroke-dasharray="75 100"/><use href="#l" transform="rotate(270)"/></g>
<g transform="translate(1000.7 0)scale(5.5)"><use href="#p" stroke-dasharray="75 100"/><use href="#l" transform="rotate(270)"/></g>
<g transform="translate(1029 0)scale(7.2)"><use href="#p" stroke-dasharray="75 100"/><use href="#l" transform="rotate(270)"/></g>
</g>
<g id="r-oligo" transform="translate(0 700.7)">
<g transform="translate(832.3 0)scale(5.5)"><use href="#p" stroke-dasharray="75 100"/><use href="#l" transform="rotate(270)"/></g>
<g transform="translate(860.7 0)scale(9.2)"><use href="#p" stroke-dasharray="28 100"/><use href="#l" transform="rotate(100.8)"/></g>
<g transform="translate(889 0)scale(5.5)"><use href="#p" stroke-dasharray="75 100"/><use href="#l" transform="rotate(270)"/></g>
<g transform="translate(917 0)scale(6.5)"><use href="#p" stroke-dasharray="50 100"/><use href="#l" transform="rotate(180)"/></g>
<g transform="translate(944.7 0)scale(5.5)"><use href="#p" stroke-dasharray="75 100"/><use href="#l" transform="rotate(270)"/></g>
<g transform="translate(972.7 0)scale(6)"><use href="#p" stroke-dasharray="50 100"/><use href="#l" transform="rotate(180)"/></g>
<g transform="translate(1000.7 0)scale(5.5)"><use href="#p" stroke-dasharray="75 100"/><use href="#l" transform="rotate(270)"/></g>
<g transform="translate(1029 0)scale(5.5)"><use href="#p" stroke-dasharray="85 100"/><use href="#l" transform="rotate(306)"/></g>
</g>
<g id="r-astro" transform="translate(0 715.7)">
<g transform="translate(832.3 0)scale(6)"><use href="#p" stroke-dasharray="62 100"/><use href="#l" transform="rotate(223.2)"/></g>
<g transform="translate(860.7 0)scale(6)"><use href="#p" stroke-dasharray="62 100"/><use href="#l" transform="rotate(223.2)"/></g>
<g transform="translate(889 0)scale(6.5)"><use href="#p" stroke-dasharray="70 100"/><use href="#l" transform="rotate(252)"/></g>
<g transform="translate(917 0)scale(6)"><use href="#p" stroke-dasharray="58 100"/><use href="#l" transform="rotate(208.8)"/></g>
<g transform="translate(944.7 0)scale(7.5)"><use href="#p" stroke-dasharray="58 100"/><use href="#l" transform="rotate(208.8)"/></g>
<g transform="translate(972.7 0)scale(5.5)"><use href="#p" stroke-dasharray="88 100"/><use href="#l" transform="rotate(316.8)"/></g>
<g transform="translate(1000.7 0)scale(6)"><use href="#p" stroke-dasharray="75 100"/><use href="#l" transform="rotate(270)"/></g>
<g transform="translate(1029 0)scale(5.5)"><use href="#p" stroke-dasharray="95 100"/><use href="#l" transform="rotate(342)"/></g>
</g>
<g id="r-schwann" transform="translate(0 727.3)">
<g transform="translate(754 0)scale(5.5)"><use href="#p" stroke-dasharray="60 100"/><use href="#l" transform="rotate(216)"/></g>
<g transform="translate(809 0)scale(6)"><use href="#p" stroke-dasharray="70 100"/><use href="#l" transform="rotate(252)"/></g>
</g>
<g id="r-fibroblast" transform="translate(0 744.5)">
<g transform="translate(268.3 0)scale(8.3)"><use href="#p" stroke-dasharray="75 100"/><use href="#l" transform="rotate(270)"/></g>
<g transform="translate(298.3 0)scale(5.5)"><use href="#p" stroke-dasharray="75 100"/><use href="#l" transform="rotate(270)"/></g>
<g transform="translate(324.3 0)scale(6)"><use href="#p" stroke-dasharray="50 100"/><use href="#l" transform="rotate(180)"/></g>
<g transform="translate(343.3 0)scale(6)"><use href="#p" stroke-dasharray="55 100"/><use href="#l" transform="rotate(198)"/></g>
<g transform="translate(371.7 0)scale(5.5)"><use href="#p" stroke-dasharray="50 100"/><use href="#l" transform="rotate(180)"/></g>
<g transform="translate(425 0)scale(8)"><use href="#p" stroke-dasharray="35 100"/><use href="#l" transform="rotate(126)"/></g>
<g transform="translate(453.3 0)scale(6.5)"><use href="#p" stroke-dasharray="35 100"/><use href="#l" transform="rotate(126)"/></g>
<g transform="translate(482.7 0)scale(6)"><use href="#p" stroke-dasharray="70 100"/><use href="#l" transform="rotate(252)"/></g>
<g transform="translate(565 0)scale(8)"><use href="#p" stroke-dasharray="40 100"/><use href="#l" transform="rotate(144)"/></g>
<g transform="translate(673.7 0)scale(6)"><use href="#p" stroke-dasharray="50 100"/><use href="#l" transform="rotate(180)"/></g>
<g transform="translate(701.7 0)scale(5.5)"><use href="#p" stroke-dasharray="95 100"/><use href="#l" transform="rotate(342)"/></g>
<g transform="translate(754 0)scale(5.5)"><use href="#p" stroke-dasharray="60 100"/><use href="#l" transform="rotate(216)"/></g>
<g transform="translate(783.3 0)scale(8)"><use href="#p" stroke-dasharray="75 100"/><use href="#l" transform="rotate(270)"/></g>
<g transform="translate(809 0)scale(7)"><use href="#p" stroke-dasharray="65 100"/><use href="#l" transform="rotate(234)"/></g>
<g transform="translate(832.3 0)scale(6.5)"><use href="#p" stroke-dasharray="40 100"/><use href="#l" transform="rotate(144)"/></g>
<g transform="translate(860.7 0)scale(5.5)"><use href="#p" stroke-dasharray="95 100"/><use href="#l" transform="rotate(342)"/></g>
<g transform="translate(889 0)scale(5.5)"><use href="#p" stroke-dasharray="75 100"/><use href="#l" transform="rotate(270)"/></g>
<g transform="translate(944.7 0)scale(6)"><use href="#p" stroke-dasharray="75 100"/><use href="#l" transform="rotate(270)"/></g>
<g transform="translate(1000.7 0)scale(6.5)"><use href="#p" stroke-dasharray="75 100"/><use href="#l" transform="rotate(270)"/></g>
<g transform="translate(1101 0)scale(5.5)"><use href="#p" stroke-dasharray="30 100"/><use href="#l" transform="rotate(108)"/></g>
</g>
<g id="r-stromal" transform="translate(0 759)">
<g transform="translate(268.3 0)scale(6)"><use href="#p" stroke-dasharray="55 100"/><use href="#l" transform="rotate(198)"/></g>
<g transform="translate(482.7 0)scale(7)"><use href="#p" stroke-dasharray="72 100"/><use href="#l" transform="rotate(259.2)"/></g>
<g transform="translate(511 0)scale(5.5)"><use href="#p" stroke-dasharray="75 100"/><use href="#l" transform="rotate(270)"/></g>
<g transform="translate(539 0)scale(6.5)"><use href="#p" stroke-dasharray="68 100"/><use href="#l" transform="rotate(244.8)"/></g>
<g transform="translate(565 0)scale(7.5)"><use href="#p" stroke-dasharray="42 100"/><use href="#l" transform="rotate(151.2)"/></g>
<g transform="translate(725 0)scale(8)"><use href="#p" stroke-dasharray="62 100"/><use href="#l" transform="rotate(223.2)"/></g>
<g transform="translate(754 0)scale(7)"><use href="#p" stroke-dasharray="62 100"/><use href="#l" transform="rotate(223.2)"/></g>
</g>
<g id="r-pericyte" transform="translate(0 771.7)">
<g transform="translate(268.3 0)scale(7)"><use href="#p" stroke-dasharray="55 100"/><use href="#l" transform="rotate(198)"/></g>
<g transform="translate(482.7 0)scale(6.5)"><use href="#p" stroke-dasharray="75 100"/><use href="#l" transform="rotate(270)"/></g>
<g transform="translate(511 0)scale(5.5)"><use href="#p" stroke-dasharray="62 100"/><use href="#l" transform="rotate(223.2)"/></g>
<g transform="translate(539 0)scale(6)"><use href="#p" stroke-dasharray="75 100"/><use href="#l" transform="rotate(270)"/></g>
</g>
<g id="r-mesenchymal" transform="translate(0 782.7)">
<g transform="translate(268.3 0)scale(5.5)"><use href="#p" stroke-dasharray="75 100"/><use href="#l" transform="rotate(270)"/></g>
<g transform="translate(754 0)scale(5.5)"><use href="#p" stroke-dasharray="50 100"/><use href="#l" transform="rotate(180)"/></g>
<g transform="translate(809 0)scale(5.5)"><use href="#p" stroke-dasharray="70 100"/><use href="#l" transform="rotate(252)"/></g>
<g transform="translate(1077 0)scale(5.5)"><use href="#p" stroke-dasharray="75 100"/><use href="#l" transform="rotate(270)"/></g>
<g transform="translate(1101 0)scale(6)"><use href="#p" stroke-dasharray="50 100"/><use href="#l" transform="rotate(180)"/></g>
</g>
<g id="r-stellate" transform="translate(0 794)">
<g transform="translate(425 0)scale(7.5)"><use href="#p" stroke-dasharray="38 100"/><use href="#l" transform="rotate(136.8)"/></g>
<g transform="translate(453.3 0)scale(6.5)"><use href="#p" stroke-dasharray="38 100"/><use href="#l" transform="rotate(136.8)"/></g>
</g>
<g id="r-granule" transform="translate(0 808)">
<g transform="translate(944.7 0)scale(5.5)"><use href="#p" stroke-dasharray="75 100"/><use href="#l" transform="rotate(270)"/></g>
<g transform="translate(972.7 0)scale(7)"><use href="#p" stroke-dasharray="38 100"/><use href="#l" transform="rotate(136.8)"/></g>
</g>
<g id="r-osteocyte" transform="translate(0 820)">
<g transform="translate(809 0)scale(7)"><use href="#p" stroke-dasharray="80 100"/><use href="#l" transform="rotate(288)"/></g>
</g>
<g id="r-precursor" transform="translate(0 837.7)">
<g transform="translate(832.3 0)scale(6)"><use href="#p" stroke-dasharray="75 100"/><use href="#l" transform="rotate(270)"/></g>
<g transform="translate(860.7 0)scale(5.5)"><use href="#p" stroke-dasharray="60 100"/><use href="#l" transform="rotate(216)"/></g>
<g transform="translate(889 0)scale(6)"><use href="#p" stroke-dasharray="75 100"/><use href="#l" transform="rotate(270)"/></g>
<g transform="translate(917 0)scale(5.5)"><use href="#p" stroke-dasharray="60 100"/><use href="#l" transform="rotate(216)"/></g>
<g transform="translate(944.7 0)scale(5.5)"><use href="#p" stroke-dasharray="85 100"/><use href="#l" transform="rotate(306)"/></g>
<g transform="translate(1000.7 0)scale(6.5)"><use href="#p" stroke-dasharray="95 100"/><use href="#l" transform="rotate(342)"/></g>
</g>
<g id="r-stem" transform="translate(0 855.7)">
<g transform="translate(425 0)scale(6)"><use href="#p" stroke-dasharray="35 100"/><use href="#l" transform="rotate(126)"/></g>
<g transform="translate(453.3 0)scale(6)"><use href="#p" stroke-dasharray="48 100"/><use href="#l" transform="rotate(172.8)"/></g>
<g transform="translate(565 0)scale(6.5)"><use href="#p" stroke-dasharray="62 100"/><use href="#l" transform="rotate(223.2)"/></g>
<g transform="translate(725 0)scale(8.8)"><use href="#p" stroke-dasharray="20 100"/><use href="#l" transform="rotate(72)"/></g>
<g transform="translate(832.3 0)scale(5)"><use href="#p" stroke-dasharray="95 100"/><use href="#l" transform="rotate(342)"/></g>
<g transform="translate(889 0)scale(5.5)"><use href="#p" stroke-dasharray="65 100"/><use href="#l" transform="rotate(234)"/></g>
<g transform="translate(944.7 0)scale(5)"><use href="#p" stroke-dasharray="95 100"/><use href="#l" transform="rotate(342)"/></g>
</g>
<g id="r-endocrine" transform="translate(0 873.3)">
<g transform="translate(1101 0)scale(6.5)"><use href="#p" stroke-dasharray="50 100"/><use href="#l" transform="rotate(180)"/></g>
</g>
<g id="r-smooth" transform="translate(0 891)">
<g transform="translate(268.3 0)scale(6)"><use href="#p" stroke-dasharray="75 100"/><use href="#l" transform="rotate(270)"/></g>
<g transform="translate(324.3 0)scale(5.5)"><use href="#p" stroke-dasharray="40 100"/><use href="#l" transform="rotate(144)"/></g>
<g transform="translate(425 0)scale(6)"><use href="#p" stroke-dasharray="30 100"/><use href="#l" transform="rotate(108)"/></g>
<g transform="translate(482.7 0)scale(5.5)"><use href="#p" stroke-dasharray="70 100"/><use href="#l" transform="rotate(252)"/></g>
<g transform="translate(565 0)scale(8)"><use href="#p" stroke-dasharray="50 100"/><use href="#l" transform="rotate(180)"/></g>
<g transform="translate(592 0)scale(7.5)"><use href="#p" stroke-dasharray="50 100"/><use href="#l" transform="rotate(180)"/></g>
<g transform="translate(620 0)scale(5.5)"><use href="#p" stroke-dasharray="50 100"/><use href="#l" transform="rotate(180)"/></g>
<g transform="translate(754 0)scale(7.3)"><use href="#p" stroke-dasharray="72 100"/><use href="#l" transform="rotate(259.2)"/></g>
<g transform="translate(783.3 0)scale(6)"><use href="#p" stroke-dasharray="72 100"/><use href="#l" transform="rotate(259.2)"/></g>
<g transform="translate(1077 0)scale(5.5)"><use href="#p" stroke-dasharray="75 100"/><use href="#l" transform="rotate(270)"/></g>
<g transform="translate(1101 0)scale(5.5)"><use href="#p" stroke-dasharray="50 100"/><use href="#l" transform="rotate(180)"/></g>
</g>
<g id="r-skeletal" transform="translate(0 912)">
<g transform="translate(343.3 0)scale(8.2)"><use href="#p" stroke-dasharray="85 100"/><use href="#l" transform="rotate(306)"/></g>
<g transform="translate(371.7 0)scale(6.5)"><use href="#p" stroke-dasharray="92 100"/><use href="#l" transform="rotate(331.2)"/></g>
<g transform="translate(400 0)scale(5.5)"><use href="#p" stroke-dasharray="95 100"/><use href="#l" transform="rotate(342)"/></g>
<g transform="translate(754 0)scale(13.3)"><use href="#p" stroke-dasharray="62 100"/><use href="#l" transform="rotate(223.2)"/></g>
</g>
<g id="r-musclecell" transform="translate(0 935)">
<g transform="translate(343.3 0)scale(5.5)"><use href="#p" stroke-dasharray="95 100"/><use href="#l" transform="rotate(342)"/></g>
<g transform="translate(754 0)scale(11.2)"><use href="#p" stroke-dasharray="85 100"/><use href="#l" transform="rotate(306)"/></g>
</g>
<g id="r-cardiac" transform="translate(0 955.7)">
<g transform="translate(783.3 0)scale(11.3)"><use href="#p" stroke-dasharray="88 100"/><use href="#l" transform="rotate(316.8)"/></g>
</g>
<g id="r-adipocyte" transform="translate(0 981.3)">
<g transform="translate(343.3 0)scale(6)"><use href="#p" stroke-dasharray="80 100"/><use href="#l" transform="rotate(288)"/></g>
<g transform="translate(783.3 0)scale(6)"><use href="#p" stroke-dasharray="50 100"/><use href="#l" transform="rotate(180)"/></g>
<g transform="translate(1077 0)scale(11.2)"><use href="#p" stroke-dasharray="50 100"/><use href="#l" transform="rotate(180)"/></g>
</g>
</g>
<g id="col-labels">
<text class="m" transform="translate(148.5 1043)rotate(-90)">Subregion</text>
<line x1="154.5" y1="998" x2="154.5" y2="1087" stroke="#222" stroke-width="1.4"/>
<text class="e" transform="translate(174.8 998)rotate(-90)">LN Tissue</text>
<text class="e" transform="translate(196.5 998)rotate(-90)">Marginal Zone</text>
<text class="e" transform="translate(223.8 998)rotate(-90)">Red Pulp</text>
<text class="e" transform="translate(250.5 998)rotate(-90)">White Pulp</text>
<text class="e" transform="translate(273.8 998)rotate(-90)">Alveoli</text>
<text class="e" transform="translate(303.8 998)rotate(-90)">Bronchioles</text>
<text class="e" transform="translate(329.8 998)rotate(-90)">Bronchi</text>
<text class="e" transform="translate(348.8 998)rotate(-90)">Hypodermis</text>
<text class="e" transform="translate(377.2 998)rotate(-90)">Dermis</text>
<text class="e" transform="translate(405.5 998)rotate(-90)">Epidermis</text>
<text class="e" transform="translate(430.5 998)rotate(-90)">Periportal</text>
<text class="e" transform="translate(458.8 998)rotate(-90)">Pericentral</text>
<text class="e" transform="translate(488.2 998)rotate(-90)">Renal Cortex</text>
<text class="e" transform="translate(516.5 998)rotate(-90)">OSOM</text>
<text class="e" transform="translate(544.5 998)rotate(-90)">ISOM</text>
<text class="e" transform="translate(570.5 998)rotate(-90)">Colon Tissue</text>
<text class="e" transform="translate(597.5 998)rotate(-90)">Gast. Glands (Chief)</text>
<text class="e" transform="translate(625.5 998)rotate(-90)">Gast. Glands (Parietal)</text>
<text class="e" transform="translate(653.8 998)rotate(-90)">Foveolar Epithelium</text>
<text class="e" transform="translate(679.2 998)rotate(-90)">Thymic Cortex</text>
<text class="e" transform="translate(707.2 998)rotate(-90)">Thymic Medulla</text>
<text class="e" transform="translate(730.5 998)rotate(-90)">Small Intestine Tissue</text>
<text class="e" transform="translate(759.5 998)rotate(-90)">Muscle Tissue</text>
<text class="e" transform="translate(788.8 998)rotate(-90)">Heart Tissue</text>
<text class="e" transform="translate(814.5 998)rotate(-90)">BM Tissue</text>
<text class="e" transform="translate(837.8 998)rotate(-90)">Cerebral Cortex</text>
<text class="e" transform="translate(866.2 998)rotate(-90)">Fiber Tracts</text>
<text class="e" transform="translate(894.5 998)rotate(-90)">Midbrain</text>
<text class="e" transform="translate(922.5 998)rotate(-90)">Caudoputamen</text>
<text class="e" transform="translate(950.2 998)rotate(-90)">CC (Mol. Layer)</text>
<text class="e" transform="translate(978.2 998)rotate(-90)">CC (Gran. Layer)</text>
<text class="e" transform="translate(1006.2 998)rotate(-90)">Meninges</text>
<text class="e" transform="translate(1034.5 998)rotate(-90)">Ventricle</text>
<text class="e" transform="translate(1060.5 998)rotate(-90)">Hippocampus</text>
<text class="e" transform="translate(1082.5 998)rotate(-90)">BF Tissue</text>
<text class="e" transform="translate(1106.5 998)rotate(-90)">PN Tissue</text>
</g>
<g id="legend">
<circle cx="789" cy="1138.3" r="8.2" fill="#ee6464" stroke="#262626" stroke-width="1"/>
<text x="801" y="1143">Up</text>
<circle cx="841" cy="1138.3" r="7.9" fill="#6b7cbd" stroke="#262626" stroke-width="1"/>
<text x="855" y="1143">Down</text>
<text x="914" y="1143"># DE genes</text>
<g stroke="#262626" stroke-width="1">
<circle cx="1010" cy="1137" r="5.3" fill="url(#hg)"/>
<circle cx="1036.3" cy="1133.5" r="8.2" fill="url(#hg)"/>
<circle cx="1065.3" cy="1131" r="10.5" fill="url(#hg)"/>
<circle cx="1099.3" cy="1128.7" r="13" fill="url(#hg)"/>
<path d="M1010 1142.3V1146M1036.3 1141.7V1146M1065.3 1141.5V1146M1099.3 1141.7V1146" stroke="#888"/>
</g>
<text class="m" x="1010" y="1158.3">100</text>
<text class="m" x="1036.3" y="1158.3">1K</text>
<text class="m" x="1064.7" y="1158.3">2.5K</text>
<text class="m" x="1099.3" y="1158.3">5K</text>
</g>
</svg>
